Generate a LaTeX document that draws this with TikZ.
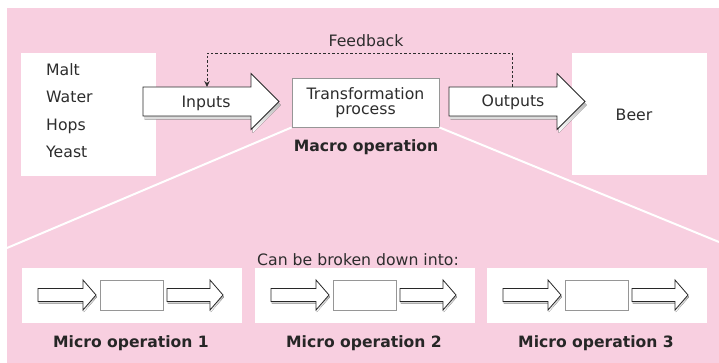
\documentclass[tikz,border=0pt]{standalone}
\usepackage{fontspec}
\setmainfont{DejaVu Sans}
\usetikzlibrary{arrows.meta}

\definecolor{bgpink}{RGB}{248,207,224}
\definecolor{ink}{RGB}{45,45,45}
\definecolor{shade}{RGB}{40,40,40}
\definecolor{frame}{RGB}{150,150,150}

% block arrow: tail x, head start x, tip x, centre y, body half-height, head half-height, shadow offset
\newcommand\blockarrow[7]{%
  \fill[shade,shift={(#7*0.45,#7)}]
    (#1,#4-#5) -- (#2,#4-#5) -- (#2,#4-#6) -- (#3,#4) -- (#2,#4+#6) -- (#2,#4+#5) -- (#1,#4+#5) -- cycle;
  \filldraw[fill=white,draw=shade,line width=0.8pt,line join=miter]
    (#1,#4-#5) -- (#2,#4-#5) -- (#2,#4-#6) -- (#3,#4) -- (#2,#4+#6) -- (#2,#4+#5) -- (#1,#4+#5) -- cycle;
}

\tikzset{
  whitebox/.style={fill=white,draw=none,inner sep=0},
  procbox/.style={fill=white,draw=frame,line width=0.9pt,inner sep=0},
  txt/.style={text=ink,inner sep=0,font=\fontsize{15.7}{18.5}\selectfont},
  boldtxt/.style={text=black!85,inner sep=0,font=\fontsize{15.6}{18}\selectfont\bfseries},
  feedback/.style={draw=ink,line width=0.9pt,dash pattern=on 2.5pt off 2pt,-{Stealth[length=6pt,width=5.5pt]}},
  split/.style={draw=white,line width=2pt},
}

\begin{document}
\begin{tikzpicture}[x=1pt,y=-1pt]
  \useasboundingbox (0,0) rectangle (719,363);
  \fill[white] (0,0) rectangle (719,363);
  \fill[bgpink] (7,8) rectangle (719,363);

  % macro level boxes
  \node[whitebox,minimum width=135pt,minimum height=123pt] (ingredients) at (88.5,114.5) {};
  \node[whitebox,minimum width=135pt,minimum height=122pt] (beer) at (639.5,114) {};
  \node[procbox,minimum width=147pt,minimum height=49pt] (process) at (365.5,102.5) {};

  % lines opening out to the micro level
  \draw[split] (process.south west) -- (7,248);
  \draw[split] (process.south east) -- (719,242);

  % inputs and outputs
  \blockarrow{143}{251}{279}{101.5}{14.5}{28}{3.5}
  \blockarrow{449}{557}{585}{101.5}{14.5}{28}{3.5}
  \coordinate (inTop) at (207,87);
  \coordinate (outTop) at (512,87);

  % feedback loop
  \draw[feedback] (outTop) -- ++(0,-34) -| (inTop);
  \node[txt,anchor=base] (fbLabel) at (366,47) {Feedback};

  % texts of the macro operation
  \node[txt,anchor=base west] (malt)  at (46,76)  {Malt};
  \node[txt,anchor=base west] (water) at (46,103) {Water};
  \node[txt,anchor=base west] (hops)  at (46,131) {Hops};
  \node[txt,anchor=base west] (yeast) at (46,158) {Yeast};
  \node[txt,anchor=base] (inputs)  at (206,107.5) {Inputs};
  \node[txt,anchor=base] (outputs) at (513,106.5) {Outputs};
  \node[txt,anchor=base] (beerLabel) at (634,121) {Beer};
  \node[txt,anchor=base] (trans1) at (365.5,100) {Transformation};
  \node[txt,anchor=base] (trans2) at (365.5,115) {process};
  \node[boldtxt,anchor=base] (macro) at (366,152) {Macro operation};

  \node[txt,anchor=base] (broken) at (358,265) {Can be broken down into:};

  % micro operations
  \foreach \dx/\n in {0/1,233/2,465/3}{
    \begin{scope}[xshift=\dx]
      \node[whitebox,minimum width=220pt,minimum height=55pt] (micro\n) at (132,295.5) {};
      \blockarrow{38}{83}{96}{295}{6.5}{15}{2}
      \node[procbox,minimum width=63pt,minimum height=30pt] (step\n) at (131.5,295) {};
      \blockarrow{167}{210}{223}{295}{6.5}{15}{2}
      \node[boldtxt,anchor=base] (microLabel\n) at (131,347) {Micro operation \n};
    \end{scope}
  }
\end{tikzpicture}
\end{document}
